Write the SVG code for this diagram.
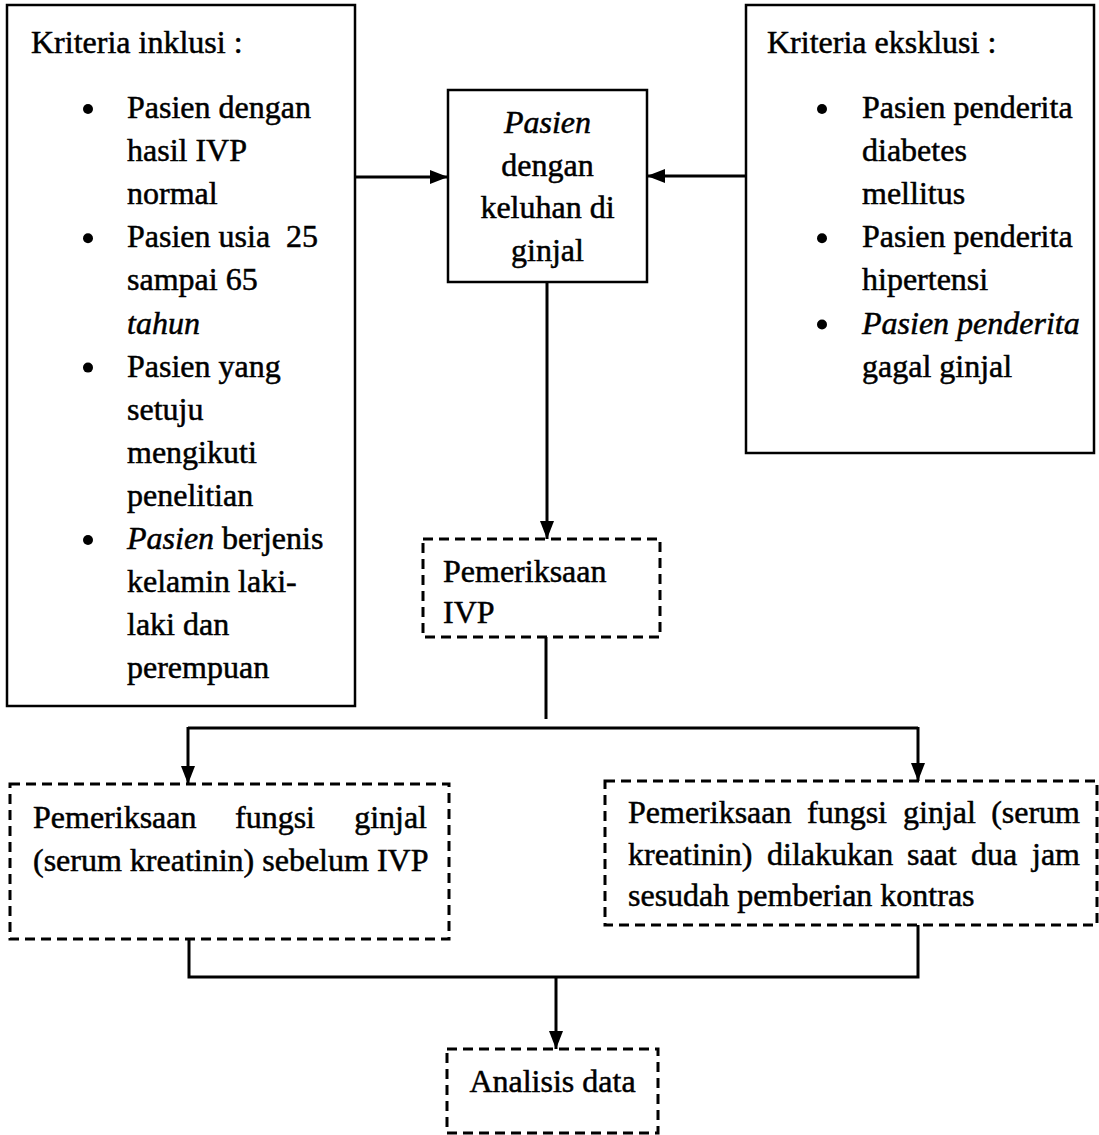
<svg xmlns="http://www.w3.org/2000/svg" width="1099" height="1135" viewBox="0 0 1099 1135">
<style>
text{font-family:"Liberation Serif","Times New Roman",serif;font-size:32px;fill:#000;stroke:#000;stroke-width:0.5}
.it{font-style:italic}
.box{fill:#fff;stroke:#000;stroke-width:2.5}
.dash{fill:#fff;stroke:#000;stroke-width:3;stroke-dasharray:10 6}
.conn{fill:none;stroke:#000;stroke-width:3}
.mid{text-anchor:middle}
.end{text-anchor:end}
</style>
<defs>
<marker id="ah" viewBox="0 0 18 14" refX="18" refY="7" markerWidth="18" markerHeight="14" orient="auto" markerUnits="userSpaceOnUse">
<path d="M0,0 L18,7 L0,14 z" fill="#000"/>
</marker>
</defs>
<rect width="1099" height="1135" fill="#fff"/>

<g id="connectors">
<path class="conn" d="M355,177 H448" marker-end="url(#ah)"/>
<path class="conn" d="M746,176 H647" marker-end="url(#ah)"/>
<path class="conn" d="M547,282 V539" marker-end="url(#ah)"/>
<path class="conn" d="M546,637 V719"/>
<path class="conn" d="M188,728 H918"/>
<path class="conn" d="M188,727 V784" marker-end="url(#ah)"/>
<path class="conn" d="M918,727 V781" marker-end="url(#ah)"/>
<path class="conn" d="M189,939 V977 H918 V925"/>
<path class="conn" d="M556,977 V1049" marker-end="url(#ah)"/>
</g>

<g id="inklusi">
<rect class="box" x="7" y="5" width="348" height="701"/>
<text x="31" y="53">Kriteria inklusi :</text>
<circle cx="88" cy="109" r="5"/>
<text x="127" y="118">Pasien dengan</text>
<text x="127" y="161.1">hasil IVP</text>
<text x="127" y="204.2">normal</text>
<circle cx="88" cy="238.3" r="5"/>
<text x="127" y="247.3" xml:space="preserve">Pasien usia  25</text>
<text x="127" y="290.4">sampai 65</text>
<text x="127" y="333.5" class="it">tahun</text>
<circle cx="88" cy="367.6" r="5"/>
<text x="127" y="376.6">Pasien yang</text>
<text x="127" y="419.7">setuju</text>
<text x="127" y="462.8">mengikuti</text>
<text x="127" y="505.9">penelitian</text>
<circle cx="88" cy="540" r="5"/>
<text x="127" y="549"><tspan class="it">Pasien</tspan> berjenis</text>
<text x="127" y="592.1">kelamin laki-</text>
<text x="127" y="635.2">laki dan</text>
<text x="127" y="678.3">perempuan</text>
</g>

<g id="pasien">
<rect class="box" x="448" y="90" width="199" height="192"/>
<text x="547.5" y="133" class="mid it">Pasien</text>
<text x="547.5" y="175.5" class="mid">dengan</text>
<text x="547.5" y="218" class="mid">keluhan di</text>
<text x="547.5" y="260.5" class="mid">ginjal</text>
</g>

<g id="eksklusi">
<rect class="box" x="746" y="5" width="348" height="448"/>
<text x="767" y="53">Kriteria eksklusi :</text>
<circle cx="822" cy="109" r="5"/>
<text x="862" y="118">Pasien penderita</text>
<text x="862" y="161.1">diabetes</text>
<text x="862" y="204.2">mellitus</text>
<circle cx="822" cy="238.3" r="5"/>
<text x="862" y="247.3">Pasien penderita</text>
<text x="862" y="290.4">hipertensi</text>
<circle cx="822" cy="324.5" r="5"/>
<text x="862" y="333.5" class="it">Pasien penderita</text>
<text x="862" y="376.6">gagal ginjal</text>
</g>

<g id="ivp">
<rect class="dash" x="423" y="539" width="237" height="98"/>
<text x="443" y="582">Pemeriksaan</text>
<text x="443" y="623">IVP</text>
</g>

<g id="fungsi-sebelum">
<rect class="dash" x="10" y="784" width="439" height="155"/>
<text x="33" y="828">Pemeriksaan</text>
<text x="235" y="828">fungsi</text>
<text x="427" y="828" class="end">ginjal</text>
<text x="33" y="871">(serum kreatinin) sebelum IVP</text>
</g>

<g id="fungsi-sesudah">
<rect class="dash" x="605" y="781" width="492" height="144"/>
<text x="628" y="823">Pemeriksaan</text>
<text x="807" y="823">fungsi</text>
<text x="903" y="823">ginjal</text>
<text x="1080" y="823" class="end">(serum</text>
<text x="628" y="865">kreatinin)</text>
<text x="767" y="865">dilakukan</text>
<text x="907" y="865">saat</text>
<text x="971" y="865">dua</text>
<text x="1080" y="865" class="end">jam</text>
<text x="628" y="906">sesudah pemberian kontras</text>
</g>

<g id="analisis">
<rect class="dash" x="447" y="1049" width="211" height="84"/>
<text x="552.5" y="1092" class="mid">Analisis data</text>
</g>
</svg>
